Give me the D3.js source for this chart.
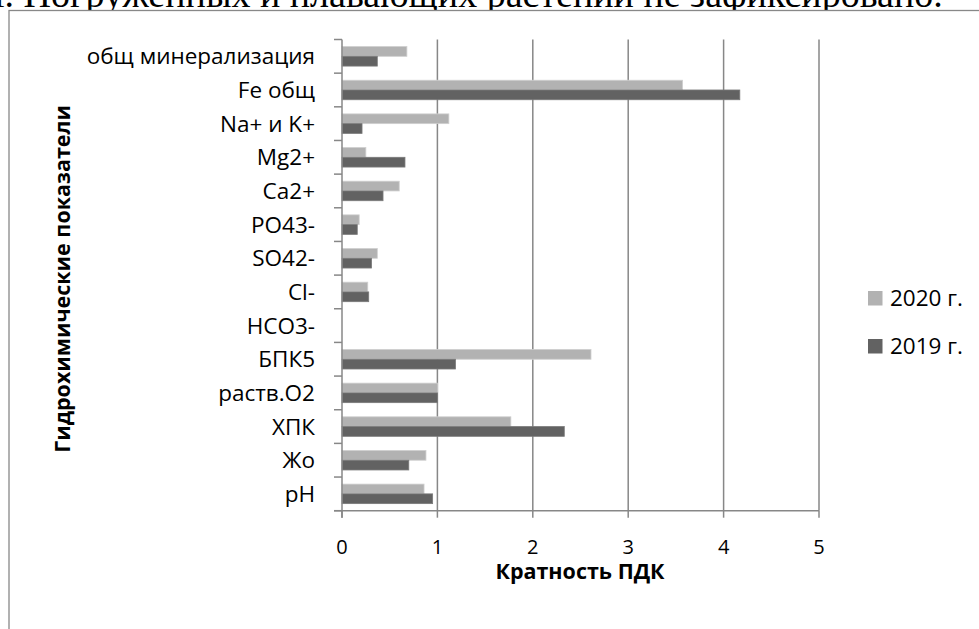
<!DOCTYPE html>
<html>
<head>
<meta charset="utf-8">
<script src="https://cdn.jsdelivr.net/npm/d3@7"></script>
<style>
  body { margin: 0; background: #fff; }
  svg { display: block; }
</style>
</head>
<body>
<div id="vizHolder"></div>
<script>
// data, top to bottom as in the chart
var categories = ['общ минерализация', 'Fe общ', 'Na+ и K+', 'Mg2+', 'Ca2+', 'PO43-', 'SO42-',
                  'Cl-', 'HCO3-', 'БПК5', 'раств.O2', 'ХПК', 'Жо', 'pH'];
var values2020 = [0.68, 3.57, 1.12, 0.25, 0.60, 0.18, 0.37, 0.27, 0, 2.61, 1.00, 1.77, 0.88, 0.86];
var values2019 = [0.37, 4.17, 0.21, 0.66, 0.43, 0.16, 0.31, 0.28, 0, 1.19, 1.00, 2.33, 0.70, 0.95];
var seriesNames = ['2020 г.', '2019 г.'];
var seriesColors = ['#b2b2b2', '#626262'];
var xTicks = [0, 1, 2, 3, 4, 5];

var width = 979, height = 629,
    pLeft = 342, pRight = 819, pTop = 39.5, pBottom = 510.7;

var svg = d3.select('#vizHolder').append('svg')
      .attr('width', width)
      .attr('height', height);

// page text cut off above the chart
svg.append('text')
    .attr('x', -6).attr('y', 7)
    .attr('font-family', '"Liberation Serif", "Times New Roman", serif')
    .attr('font-size', 38)
    .attr('fill', '#000')
    .text('ı. Погруженных и плавающих растений не зафиксировано.');

// chart frame
svg.append('rect')
    .attr('x', 9).attr('y', 10.5)
    .attr('width', 1000).attr('height', 700)
    .attr('fill', '#fff')
    .attr('stroke', '#888')
    .attr('stroke-width', 1.3);

var x = d3.scaleLinear().domain([0, 5]).range([pLeft, pRight]);
var y = d3.scaleBand().domain(categories).range([pTop, pBottom])
      .paddingInner(0.42).paddingOuter(0.21);
var ySub = d3.scaleBand().domain([0, 1]).range([0, y.bandwidth()]);

// vertical gridlines
svg.append('g').selectAll('line')
    .data(xTicks.slice(1))
    .join('line')
    .attr('x1', function(d){ return x(d); })
    .attr('x2', function(d){ return x(d); })
    .attr('y1', pTop).attr('y2', pBottom)
    .attr('stroke', '#878787')
    .attr('stroke-width', 1.5);

// bars
var rows = categories.map(function(c, i){
  return [{cat: c, s: 0, v: values2020[i]}, {cat: c, s: 1, v: values2019[i]}];
});
svg.append('g').selectAll('g')
    .data(rows)
    .join('g')
    .attr('transform', function(d){ return 'translate(0,' + y(d[0].cat) + ')'; })
    .selectAll('rect')
    .data(function(d){ return d.filter(function(e){ return e.v > 0; }); })
    .join('rect')
    .attr('x', x(0))
    .attr('y', function(d){ return ySub(d.s); })
    .attr('width', function(d){ return x(d.v) - x(0); })
    .attr('height', ySub.bandwidth())
    .attr('fill', function(d){ return seriesColors[d.s]; })
    .attr('stroke', function(d){ return d.s === 0 ? '#cfcfcf' : '#7a7a7a'; })
    .attr('stroke-width', 0.8);

// y axis with ticks between the categories
var yEdges = d3.range(categories.length + 1).map(function(i){ return pTop + i * y.step(); });
var yAx = svg.append('g');
yAx.append('line')
    .attr('x1', pLeft).attr('x2', pLeft)
    .attr('y1', pTop).attr('y2', pBottom + 7)
    .attr('stroke', '#878787').attr('stroke-width', 1.5);
yAx.selectAll('line.tick')
    .data(yEdges)
    .join('line')
    .attr('class', 'tick')
    .attr('x1', pLeft - 8).attr('x2', pLeft)
    .attr('y1', function(d){ return d; })
    .attr('y2', function(d){ return d; })
    .attr('stroke', '#878787').attr('stroke-width', 1.5);
yAx.selectAll('text')
    .data(categories)
    .join('text')
    .attr('x', pLeft - 27)
    .attr('y', function(d){ return y(d) + y.bandwidth() / 2; })
    .attr('dy', '0.36em')
    .attr('text-anchor', 'end')
    .attr('font-family', '"Open Sans", sans-serif')
    .attr('font-size', 22.5)
    .attr('fill', '#000')
    .text(function(d){ return d; });

// x axis
var xAx = svg.append('g');
xAx.append('line')
    .attr('x1', pLeft - 8).attr('x2', pRight)
    .attr('y1', pBottom).attr('y2', pBottom)
    .attr('stroke', '#878787').attr('stroke-width', 1.5);
xAx.selectAll('line.tick')
    .data(xTicks)
    .join('line')
    .attr('class', 'tick')
    .attr('x1', function(d){ return x(d); })
    .attr('x2', function(d){ return x(d); })
    .attr('y1', pBottom).attr('y2', pBottom + 7)
    .attr('stroke', '#878787').attr('stroke-width', 1.5);
xAx.selectAll('text')
    .data(xTicks)
    .join('text')
    .attr('x', function(d){ return x(d); })
    .attr('y', 553.5)
    .attr('text-anchor', 'middle')
    .attr('font-family', '"Open Sans", sans-serif')
    .attr('font-size', 20)
    .attr('fill', '#000')
    .text(function(d){ return d; });

// axis titles
svg.append('text')
    .attr('x', 580).attr('y', 578.5)
    .attr('text-anchor', 'middle')
    .attr('font-family', '"Open Sans", sans-serif')
    .attr('font-weight', 'bold')
    .attr('font-size', 21.5)
    .attr('fill', '#000')
    .text('Кратность ПДК');

svg.append('text')
    .attr('transform', 'translate(70,279) rotate(-90)')
    .attr('text-anchor', 'middle')
    .attr('font-family', '"Open Sans", sans-serif')
    .attr('font-weight', 'bold')
    .attr('font-size', 21.5)
    .attr('fill', '#000')
    .text('Гидрохимические показатели');

// legend
var legend = svg.append('g').selectAll('g')
    .data(seriesNames)
    .join('g')
    .attr('transform', function(d, i){ return 'translate(868,' + (291 + i * 48) + ')'; });
legend.append('rect')
    .attr('width', 14.5).attr('height', 14.5)
    .attr('fill', function(d, i){ return seriesColors[i]; });
legend.append('text')
    .attr('x', 22).attr('y', 14.5)
    .attr('font-family', '"Open Sans", sans-serif')
    .attr('font-size', 22.5)
    .attr('fill', '#000')
    .text(function(d){ return d; });
</script>
</body>
</html>
